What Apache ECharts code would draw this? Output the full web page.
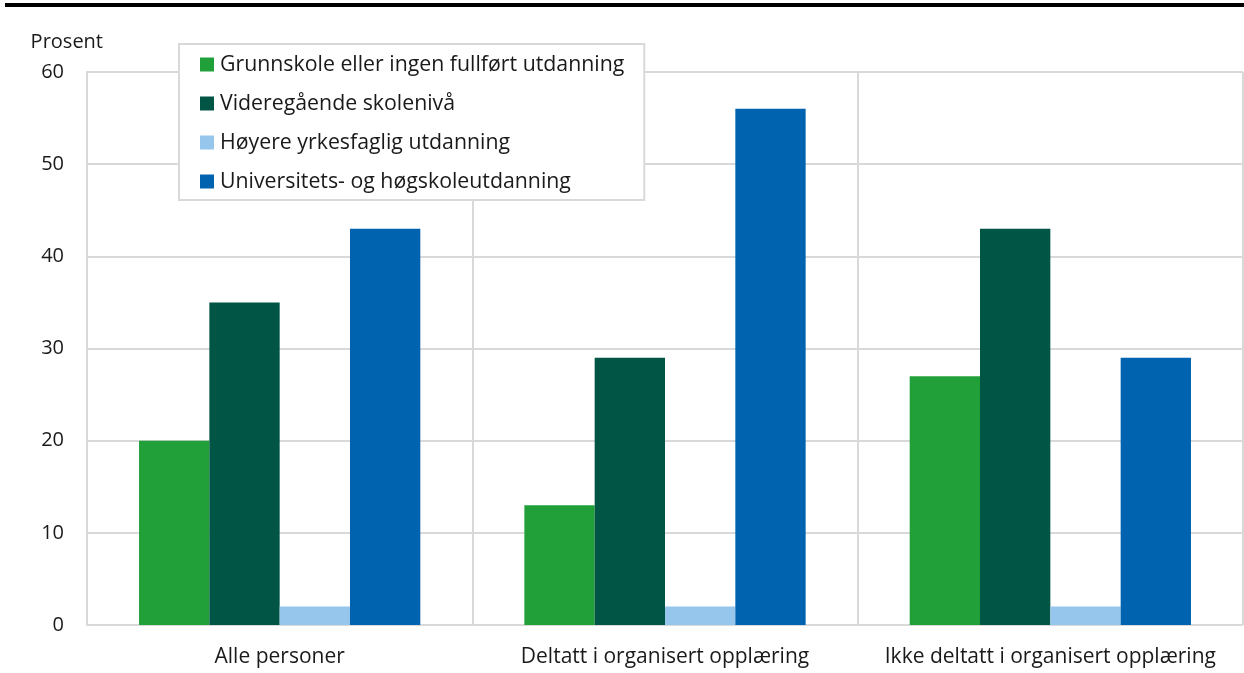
<!DOCTYPE html>
<html><head><meta charset="utf-8">
<script src="https://cdn.jsdelivr.net/npm/echarts@6/dist/echarts.min.js"></script>
<style>html,body{margin:0;padding:0;background:#fff}#c{width:1244px;height:673px}</style>
</head><body><div id="c"></div>
<script>
const categories = ['Alle personer', 'Deltatt i organisert opplæring', 'Ikke deltatt i organisert opplæring'];
const seriesNames = ['Grunnskole eller ingen fullført utdanning', 'Videregående skolenivå', 'Høyere yrkesfaglig utdanning', 'Universitets- og høgskoleutdanning'];
const grunnskole = [20, 13, 27];
const videregaende = [35, 29, 43];
const hoyereYrkesfaglig = [2, 2, 2];
const universitet = [43, 56, 29];
const colors = ['#21a03a', '#005545', '#96c6ec', '#0063b0'];
const values = [grunnskole, videregaende, hoyereYrkesfaglig, universitet];
const font = '"Open Sans", sans-serif';
const chart = echarts.init(document.getElementById('c'));
chart.setOption({
  animation: false,
  textStyle: {fontFamily: font},
  grid: {left: 87, right: 1, top: 72, bottom: 48, containLabel: false},
  graphic: [{type: 'rect', shape: {x: 5, y: 3, width: 1239, height: 4}, style: {fill: '#000'}}],
  legend: {
    orient: 'vertical', left: 179, top: 44,
    backgroundColor: '#fff', borderColor: '#d9d9d9', borderWidth: 2,
    padding: [10, 20, 8, 21], itemGap: 18, itemWidth: 14, itemHeight: 14,
    icon: 'rect', textStyle: {fontFamily: font, fontSize: 21.3, color: '#1a1a1a', padding: [0, 0, 0, 1]},
    data: seriesNames
  },
  xAxis: {
    type: 'category', data: categories,
    axisLine: {show: false}, axisTick: {show: false},
    axisLabel: {interval: 0, fontSize: 21, color: '#1a1a1a', margin: 22},
    splitLine: {show: true, interval: 0, lineStyle: {color: '#d9d9d9', width: 2}}
  },
  yAxis: {
    type: 'value', min: 0, max: 60, interval: 10,
    name: 'Prosent', nameLocation: 'end', nameGap: 20,
    nameTextStyle: {fontSize: 20, color: '#1a1a1a', align: 'right', padding: [0, -16, 0, 0]},
    axisLine: {show: true, lineStyle: {color: '#d9d9d9', width: 2}},
    axisTick: {show: false},
    axisLabel: {fontSize: 20, color: '#1a1a1a', margin: 23},
    splitLine: {lineStyle: {color: '#d9d9d9', width: 2}}
  },
  series: seriesNames.map((n, i) => ({
    name: n, type: 'bar', data: values[i], barGap: '0%', barCategoryGap: '27%',
    itemStyle: {color: colors[i]}, z: 2
  }))
});
</script></body></html>
